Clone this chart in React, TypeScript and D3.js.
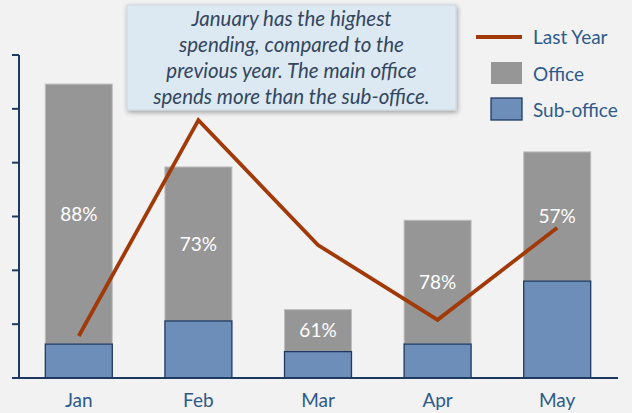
import React from "react";
import * as d3 from "d3";

const months = ["Jan", "Feb", "Mar", "Apr", "May"];
const subOffice = [6.3, 10.6, 4.9, 6.3, 18.0];
const office = [48.3, 28.6, 7.8, 23.0, 24.0];
const lastYear = [7.8, 47.9, 24.7, 10.8, 27.9];
const yTicks = [0, 10, 20, 30, 40, 50, 60];
const noteLines = [
  "January has the highest",
  "spending, compared to the",
  "previous year. The main office",
  "spends more than the sub-office.",
];

const W = 632;
const H = 413;
const FONT = "Lato, 'Open Sans', sans-serif";

export default function App() {
  const x = d3
    .scaleBand<string>()
    .domain(months)
    .range([19, 617])
    .paddingInner(0.44)
    .paddingOuter(0.22);
  const y = d3.scaleLinear().domain([0, 60]).range([378, 55]);
  const cx = (m: string) => (x(m) as number) + x.bandwidth() / 2;

  const line = d3
    .line<number>()
    .x((_, i) => cx(months[i]))
    .y((d) => y(d));

  return (
    <svg
      width={W}
      height={H}
      style={{ position: "absolute", left: 0, top: 0, background: "#F2F2F2" }}
    >
      <defs>
        <filter id="shadow" x="-10%" y="-20%" width="120%" height="140%">
          <feDropShadow dx="1" dy="2" stdDeviation="2.5" floodColor="#000" floodOpacity="0.35" />
        </filter>
      </defs>
      <rect x={0} y={0} width={W} height={H} fill="#F2F2F2" />

      {/* bars */}
      {months.map((m, i) => {
        const x0 = x(m) as number;
        const bw = x.bandwidth();
        const ySub = y(subOffice[i]);
        const yTot = y(subOffice[i] + office[i]);
        const pct = Math.round((office[i] / (office[i] + subOffice[i])) * 100);
        return (
          <g key={m}>
            <rect
              x={x0}
              y={yTot}
              width={bw}
              height={ySub - yTot}
              fill="#969696"
              stroke="#BDBDBD"
              strokeWidth={1}
            />
            <rect
              x={x0}
              y={ySub}
              width={bw}
              height={y(0) - ySub}
              fill="#6E8EBA"
              stroke="#1F3A60"
              strokeWidth={1.3}
            />
            <text
              x={cx(m)}
              y={(ySub + yTot) / 2}
              dy="0.36em"
              textAnchor="middle"
              fill="#FFFFFF"
              fontFamily={FONT}
              fontSize={19}
            >
              {pct}%
            </text>
          </g>
        );
      })}

      {/* last year line */}
      <path d={line(lastYear) || ""} fill="none" stroke="#A13A08" strokeWidth={3.8} strokeLinejoin="miter" />

      {/* y axis */}
      <line x1={19} x2={19} y1={y(60)} y2={y(0)} stroke="#1F3A60" strokeWidth={2} />
      {yTicks.map((t) => (
        <line key={t} x1={12} x2={19} y1={y(t)} y2={y(t)} stroke="#1F3A60" strokeWidth={2} />
      ))}
      {/* x axis */}
      <line x1={12} x2={618} y1={y(0)} y2={y(0)} stroke="#1F3A60" strokeWidth={2} />
      {months.map((m) => (
        <text
          key={m}
          x={cx(m)}
          y={400}
          dy="0.36em"
          textAnchor="middle"
          fill="#2E5A8A"
          fontFamily={FONT}
          fontSize={19}
        >
          {m}
        </text>
      ))}

      {/* annotation */}
      <rect x={127} y={5} width={329} height={105} fill="#DDE9F2" stroke="#C9D6E0" strokeWidth={1} filter="url(#shadow)" />
      {noteLines.map((l, i) => (
        <text
          key={i}
          x={291.5}
          y={19 + i * 26}
          dy="0.36em"
          textAnchor="middle"
          fill="#33465E"
          fontFamily={FONT}
          fontStyle="italic"
          fontSize={20.5}
        >
          {l}
        </text>
      ))}

      {/* legend */}
      <line x1={476} x2={522} y1={37} y2={37} stroke="#A13A08" strokeWidth={3.8} />
      <text x={533} y={37} dy="0.36em" fill="#2E5A8A" fontFamily={FONT} fontSize={19}>
        Last Year
      </text>
      <rect x={491} y={62} width={31} height={22} fill="#969696" />
      <text x={533} y={74} dy="0.36em" fill="#2E5A8A" fontFamily={FONT} fontSize={19}>
        Office
      </text>
      <rect x={491} y={98} width={31} height={22} fill="#6E8EBA" stroke="#1F3A60" strokeWidth={1.3} />
      <text x={533} y={110} dy="0.36em" fill="#2E5A8A" fontFamily={FONT} fontSize={19}>
        Sub-office
      </text>
    </svg>
  );
}
